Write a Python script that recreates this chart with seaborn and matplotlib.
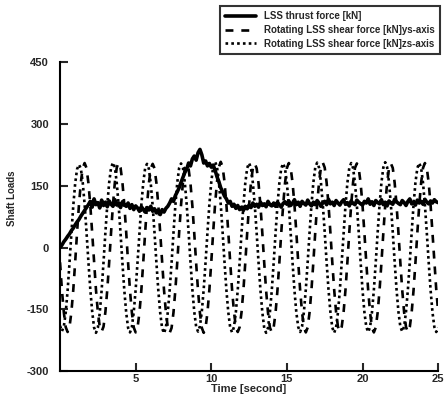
import numpy as np
import pandas as pd
import matplotlib
matplotlib.use("Agg")
import matplotlib.pyplot as plt
import seaborn as sns

# ---- data ----
time_s = np.linspace(0, 25, 201)  # sampling every 0.125 s

thrust = [
    0, 6, 14, 20, 27, 33, 41, 47, 55, 62, 68, 76, 83, 90, 97, 104,
    112, 98, 118, 104, 109, 96, 115, 102, 110, 99, 113, 105, 100, 116, 103, 108, 97, 111, 104, 100,
    108, 95, 104, 92, 101, 96, 88, 99, 93, 86, 97, 91, 100, 88, 94, 84, 90, 80, 92, 86,
    95, 100, 108, 118, 112, 126, 135, 145,
    158, 170, 182, 190, 205, 198, 215, 222, 212, 230, 238, 225,
    205, 210, 198, 204, 195, 200, 188, 172, 160, 145, 135, 125,
    118, 108, 112, 100, 105, 95, 102, 92, 98, 90, 100, 94,
    103, 97, 108, 100, 105, 98, 110, 102, 106, 99, 112, 104, 101, 108, 100, 110, 104, 98, 107, 111,
    105, 113, 102, 108, 116, 104, 110, 100, 112, 107, 103, 115, 106, 101, 110, 104, 114, 108, 100, 109,
    112, 104, 117, 106, 110, 102, 114, 108, 103, 111, 116, 105, 109, 101, 113, 107, 104, 115, 110, 106,
    103, 112, 108, 118, 105, 111, 102, 114, 109, 106, 116, 104, 110, 101, 113, 108, 105, 117, 111, 107,
    104, 114, 109, 102, 112, 118, 106, 110, 103, 115, 108, 112, 105, 117, 110, 106, 113, 108, 116, 111, 109,
]

shear_ys = [
    -36, -103, -157, -193, -205, -193, -157, -103, -36, 36, 103, 157, 193, 205, 193, 157, 103, 36,
    -35, -102, -156, -192, -204, -192, -156, -102, -35, 37, 104, 158, 194, 206, 194, 158, 104, 37,
    -37, -104, -158, -194, -206, -194, -158, -104, -37, 35, 102, 156, 192, 203, 192, 156, 102, 35,
    -36, -103, -157, -194, -207, -195, -158, -103, -36, 36, 103, 157, 192, 202, 191, 155, 101, 34,
    -38, -105, -159, -195, -207, -194, -157, -102, -35, 37, 104, 158, 195, 208, 196, 159, 104, 37,
    -35, -102, -156, -193, -205, -193, -157, -103, -36, 36, 103, 157, 193, 204, 192, 156, 102, 35,
    -37, -104, -158, -194, -206, -194, -158, -104, -37, 35, 102, 156, 193, 205, 193, 157, 103, 36,
    -36, -103, -157, -193, -206, -194, -157, -102, -35, 37, 104, 158, 194, 206, 194, 158, 104, 37,
    -35, -102, -156, -192, -204, -192, -156, -102, -35, 37, 104, 158, 193, 204, 192, 156, 102, 35,
    -37, -104, -158, -194, -206, -194, -158, -104, -37, 35, 102, 156, 192, 204, 193, 157, 103, 36,
    -36, -103, -157, -193, -205, -193, -157, -103, -36, 36, 103, 157, 193, 205, 193, 157, 103, 36,
    -35, -102, -156,
]

shear_zs = [
    -190, -203, -192, -158, -105, -38, 34, 101, 155, 190, 201, 192, 158, 105, 38, -34, -101, -155,
    -194, -207, -195, -159, -104, -36, 37, 104, 158, 194, 206, 195, 157, 102, 35, -37, -104, -158,
    -195, -206, -193, -156, -102, -35, 36, 103, 156, 192, 203, 191, 155, 101, 34, -38, -105, -159,
    -196, -208, -194, -157, -103, -37, 35, 102, 157, 193, 204, 194, 158, 104, 37, -35, -102, -156,
    -192, -204, -191, -155, -101, -34, 38, 105, 159, 196, 208, 197, 160, 105, 37, -36, -103, -157,
    -194, -206, -193, -157, -103, -36, 36, 103, 157, 193, 205, 193, 157, 103, 36, -36, -103, -157,
    -195, -207, -195, -158, -104, -37, 35, 102, 156, 192, 204, 192, 156, 102, 35, -37, -104, -158,
    -193, -205, -192, -156, -102, -35, 37, 104, 158, 194, 206, 194, 158, 104, 37, -35, -102, -156,
    -194, -207, -194, -158, -104, -36, 36, 103, 157, 193, 205, 193, 157, 103, 36, -36, -103, -157,
    -193, -205, -193, -157, -103, -36, 36, 103, 157, 194, 207, 195, 158, 104, 37, -35, -102, -156,
    -192, -204, -192, -156, -102, -35, 37, 104, 158, 193, 205, 193, 157, 103, 36, -36, -103, -157,
    -193, -205, -194,
]

labels = [
    "LSS thrust force [kN]",
    "Rotating LSS shear force [kN]ys-axis",
    "Rotating LSS shear force [kN]zs-axis",
]
xticks = [5, 10, 15, 20, 25]
yticks = [-300, -150, 0, 150, 300, 450]

# ---- style ----
sns.set_style("ticks")
plt.rcParams["font.family"] = ["Liberation Sans", "DejaVu Sans"]
plt.rcParams["font.weight"] = "bold"
plt.rcParams["axes.unicode_minus"] = False

fig = plt.figure(figsize=(4.48, 4.03), dpi=100)
ax = fig.add_axes([0.134, 0.079, 0.844, 0.767])

sns.lineplot(x=time_s, y=thrust, ax=ax, color="black", linewidth=2.6,
             linestyle="-", label=labels[0], legend=False)
sns.lineplot(x=time_s, y=shear_ys, ax=ax, color="black", linewidth=1.9,
             dashes=False, legend=False, label=labels[1])
sns.lineplot(x=time_s, y=shear_zs, ax=ax, color="black", linewidth=1.9,
             dashes=False, legend=False, label=labels[2])
lines = ax.get_lines()
lines[1].set_linestyle((0, (3, 3)))
lines[2].set_linestyle((0, (1, 1.2)))

ax.set_xlim(0, 25)
ax.set_ylim(-300, 450)
ax.set_xticks(xticks)
ax.set_yticks(yticks)
ax.tick_params(direction="in", length=6, width=1.5, labelsize=8, pad=2)
ax.tick_params(axis="y", pad=8)
for lab in ax.get_xticklabels() + ax.get_yticklabels():
    lab.set_fontweight("bold")
for s in ["top", "right"]:
    ax.spines[s].set_visible(False)
for s in ["left", "bottom"]:
    ax.spines[s].set_linewidth(1.5)
    ax.spines[s].set_color("black")

ax.set_xlabel("Time [second]", fontsize=8, fontweight="bold", labelpad=0)
ax.set_ylabel("Shaft Loads", fontsize=7, fontweight="bold")
ax.yaxis.set_label_coords(-0.115, 0.56)

handles = ax.get_lines()[:3]
leg = fig.legend(handles, labels, loc="upper right",
                 bbox_to_anchor=(445 / 448, 0.998), frameon=True,
                 fancybox=False, fontsize=7, handlelength=3.2,
                 borderpad=0.55, labelspacing=0.4, handletextpad=0.8)
leg.get_frame().set_edgecolor("black")
leg.get_frame().set_linewidth(1.5)
for txt in leg.get_texts():
    txt.set_fontweight("bold")

fig.savefig("out.png", dpi=100)
